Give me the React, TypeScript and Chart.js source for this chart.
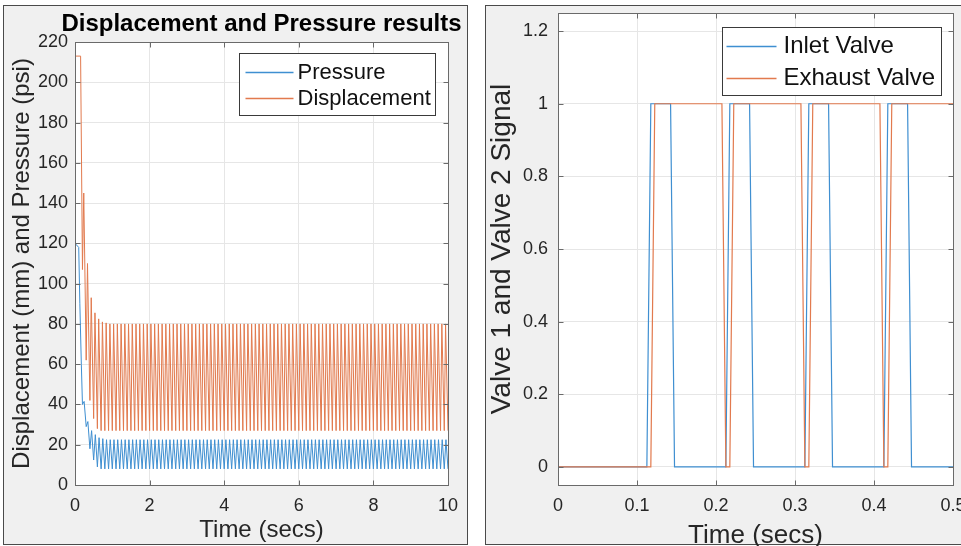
import React, { useEffect, useRef } from 'react';
import { Chart, registerables } from 'chart.js';

Chart.register(...registerables);

const FONT = "'Liberation Sans', Arial, Helvetica, sans-serif";

// ---------------- Left figure: Displacement and Pressure ----------------
const leftTitle = 'Displacement and Pressure results';
const leftYLabel = 'Displacement (mm) and Pressure (psi)';
const leftXLabel = 'Time (secs)';

// start of each oscillation cycle (s)
const cycleTimes = [
  0.2, 0.3, 0.4, 0.5, 0.6, 0.7, 0.8, 0.9, 1.0, 1.1,
  1.2, 1.3, 1.4, 1.5, 1.6, 1.7, 1.8, 1.9, 2.0, 2.1,
  2.2, 2.3, 2.4, 2.5, 2.6, 2.7, 2.8, 2.9, 3.0, 3.1,
  3.2, 3.3, 3.4, 3.5, 3.6, 3.7, 3.8, 3.9, 4.0, 4.1,
  4.2, 4.3, 4.4, 4.5, 4.6, 4.7, 4.8, 4.9, 5.0, 5.1,
  5.2, 5.3, 5.4, 5.5, 5.6, 5.7, 5.8, 5.9, 6.0, 6.1,
  6.2, 6.3, 6.4, 6.5, 6.6, 6.7, 6.8, 6.9, 7.0, 7.1,
  7.2, 7.3, 7.4, 7.5, 7.6, 7.7, 7.8, 7.9, 8.0, 8.1,
  8.2, 8.3, 8.4, 8.5, 8.6, 8.7, 8.8, 8.9, 9.0, 9.1,
  9.2, 9.3, 9.4, 9.5, 9.6, 9.7, 9.8, 9.9, 10.0,
];

// Displacement (mm)
const dispStartTimes = [0, 0.15];
const dispStartValues = [213, 213];
const dispLows = [
  107, 62, 42, 33, 28, 27, 27, 27, 27, 27,
  27, 27, 27, 27, 27, 27, 27, 27, 27, 27,
  27, 27, 27, 27, 27, 27, 27, 27, 27, 27,
  27, 27, 27, 27, 27, 27, 27, 27, 27, 27,
  27, 27, 27, 27, 27, 27, 27, 27, 27, 27,
  27, 27, 27, 27, 27, 27, 27, 27, 27, 27,
  27, 27, 27, 27, 27, 27, 27, 27, 27, 27,
  27, 27, 27, 27, 27, 27, 27, 27, 27, 27,
  27, 27, 27, 27, 27, 27, 27, 27, 27, 27,
  27, 27, 27, 27, 27, 27, 27, 27, 27,
];
const dispHighs = [
  145, 110, 93, 85.5, 82.5, 81, 80.5, 80, 80, 80,
  80, 80, 80, 80, 80, 80, 80, 80, 80, 80,
  80, 80, 80, 80, 80, 80, 80, 80, 80, 80,
  80, 80, 80, 80, 80, 80, 80, 80, 80, 80,
  80, 80, 80, 80, 80, 80, 80, 80, 80, 80,
  80, 80, 80, 80, 80, 80, 80, 80, 80, 80,
  80, 80, 80, 80, 80, 80, 80, 80, 80, 80,
  80, 80, 80, 80, 80, 80, 80, 80, 80, 80,
  80, 80, 80, 80, 80, 80, 80, 80, 80, 80,
  80, 80, 80, 80, 80, 80, 80, 80, 80,
];
const dispPeakDelay = 0.035;

// Pressure (psi)
const pressStartTimes = [0, 0.1, 0.13, 0.17];
const pressStartValues = [120, 118, 90, 60];
const pressLows = [
  40, 29, 18, 12.4, 9, 8, 8, 8, 8, 8,
  8, 8, 8, 8, 8, 8, 8, 8, 8, 8,
  8, 8, 8, 8, 8, 8, 8, 8, 8, 8,
  8, 8, 8, 8, 8, 8, 8, 8, 8, 8,
  8, 8, 8, 8, 8, 8, 8, 8, 8, 8,
  8, 8, 8, 8, 8, 8, 8, 8, 8, 8,
  8, 8, 8, 8, 8, 8, 8, 8, 8, 8,
  8, 8, 8, 8, 8, 8, 8, 8, 8, 8,
  8, 8, 8, 8, 8, 8, 8, 8, 8, 8,
  8, 8, 8, 8, 8, 8, 8, 8, 8,
];
const pressHighs = [
  41.5, 31.5, 27, 25, 23.5, 23, 22.5, 22.5, 22.5, 22.5,
  22.5, 22.5, 22.5, 22.5, 22.5, 22.5, 22.5, 22.5, 22.5, 22.5,
  22.5, 22.5, 22.5, 22.5, 22.5, 22.5, 22.5, 22.5, 22.5, 22.5,
  22.5, 22.5, 22.5, 22.5, 22.5, 22.5, 22.5, 22.5, 22.5, 22.5,
  22.5, 22.5, 22.5, 22.5, 22.5, 22.5, 22.5, 22.5, 22.5, 22.5,
  22.5, 22.5, 22.5, 22.5, 22.5, 22.5, 22.5, 22.5, 22.5, 22.5,
  22.5, 22.5, 22.5, 22.5, 22.5, 22.5, 22.5, 22.5, 22.5, 22.5,
  22.5, 22.5, 22.5, 22.5, 22.5, 22.5, 22.5, 22.5, 22.5, 22.5,
  22.5, 22.5, 22.5, 22.5, 22.5, 22.5, 22.5, 22.5, 22.5, 22.5,
  22.5, 22.5, 22.5, 22.5, 22.5, 22.5, 22.5, 22.5, 22.5,
];
const pressPeakDelay = 0.045;

// ---------------- Right figure: valve signals ----------------
const rightYLabel = 'Valve 1 and Valve 2 Signal';
const rightXLabel = 'Time (secs)';

const inletTimes = [0, 0.1125, 0.1175, 0.1425, 0.1475, 0.2125, 0.2175, 0.2425, 0.2475, 0.3125, 0.3175, 0.3425, 0.3475, 0.4125, 0.4175, 0.4425, 0.4475, 0.5];
const inletValues = [0, 0, 1, 1, 0, 0, 1, 1, 0, 0, 1, 1, 0, 0, 1, 1, 0, 0];
const exhaustTimes = [0, 0.1175, 0.1225, 0.2075, 0.2125, 0.2175, 0.2225, 0.3075, 0.3125, 0.3175, 0.3225, 0.4075, 0.4125, 0.4175, 0.4225, 0.5];
const exhaustValues = [0, 0, 1, 1, 0, 0, 1, 1, 0, 0, 1, 1, 0, 0, 1, 1];

const BLUE = '#3f8fd1';
const ORANGE = '#e27a4e';

function zipPoints(ts: number[], vs: number[]) {
  return ts.map((t, i) => ({ x: t, y: vs[i] }));
}

function buildOscillation(startT: number[], startV: number[], lows: number[], highs: number[], delay: number) {
  const pts = zipPoints(startT, startV);
  cycleTimes.forEach((t, i) => {
    if (lows[i] !== undefined) pts.push({ x: t, y: lows[i] });
    if (highs[i] !== undefined) pts.push({ x: +(t + delay).toFixed(4), y: highs[i] });
  });
  return pts;
}

// MATLAB-like tick text: no trailing zeros ("1" not "1.0")
const plainNumber = (v: any) => String(+(+v).toFixed(4));

// ---------------- plugins ----------------
const AXIS_COLOR = '#6a6a6a';

const plotBgPlugin = {
  id: 'plotBg',
  beforeDraw(chart: any) {
    const { ctx, chartArea: a } = chart;
    ctx.save();
    ctx.fillStyle = '#ffffff';
    ctx.fillRect(a.left, a.top, a.right - a.left, a.bottom - a.top);
    ctx.restore();
  },
};

// axes title centred over the plot area (MATLAB style)
function makeAxesTitlePlugin(text: string, size: number, centerY: number) {
  return {
    id: 'axesTitle',
    afterDraw(chart: any) {
      const { ctx, chartArea: a } = chart;
      ctx.save();
      ctx.font = `bold ${size}px ${FONT}`;
      ctx.fillStyle = '#000000';
      ctx.textAlign = 'center';
      ctx.textBaseline = 'middle';
      ctx.fillText(text, (a.left + a.right) / 2, centerY);
      ctx.restore();
    },
  };
}

const boxPlugin = {
  id: 'matlabBox',
  afterDatasetsDraw(chart: any) {
    const { ctx, chartArea: a, scales } = chart;
    const L = Math.round(a.left) + 0.5;
    const R = Math.round(a.right) + 0.5;
    const T = Math.round(a.top) + 0.5;
    const B = Math.round(a.bottom) + 0.5;
    ctx.save();
    ctx.strokeStyle = AXIS_COLOR;
    ctx.lineWidth = 1;
    ctx.beginPath();
    const tl = 5;
    scales.x.ticks.forEach((t: any) => {
      const px = Math.round(scales.x.getPixelForValue(t.value)) + 0.5;
      ctx.moveTo(px, B); ctx.lineTo(px, B - tl);
      ctx.moveTo(px, T); ctx.lineTo(px, T + tl);
    });
    scales.y.ticks.forEach((t: any) => {
      const py = Math.round(scales.y.getPixelForValue(t.value)) + 0.5;
      ctx.moveTo(L, py); ctx.lineTo(L + tl, py);
      ctx.moveTo(R, py); ctx.lineTo(R - tl, py);
    });
    ctx.stroke();
    ctx.strokeRect(L, T, R - L, B - T);
    ctx.restore();
  },
};

function makeLegendPlugin(cfg: any) {
  return {
    id: 'matlabLegend',
    afterDraw(chart: any) {
      const { ctx, chartArea: a } = chart;
      const items = chart.data.datasets;
      ctx.save();
      ctx.font = `${cfg.fontSize}px ${FONT}`;
      const textW = Math.max(...items.map((d: any) => ctx.measureText(d.label).width));
      const w = Math.round(cfg.padLeft + cfg.lineLen + cfg.gap + textW + cfg.padRight);
      const h = Math.round(cfg.rowH * items.length + cfg.padV * 2);
      const x = Math.round(a.right - cfg.offRight - w) + 0.5;
      const y = Math.round(a.top + cfg.offTop) + 0.5;
      ctx.fillStyle = '#ffffff';
      ctx.fillRect(x, y, w, h);
      ctx.strokeStyle = '#3a3a3a';
      ctx.lineWidth = 1;
      ctx.strokeRect(x, y, w, h);
      items.forEach((d: any, i: number) => {
        const cy = y + cfg.padV + cfg.rowH * (i + 0.5);
        ctx.strokeStyle = d.borderColor;
        ctx.lineWidth = 1.3;
        ctx.beginPath();
        ctx.moveTo(x + cfg.padLeft, Math.round(cy) + 0.5);
        ctx.lineTo(x + cfg.padLeft + cfg.lineLen, Math.round(cy) + 0.5);
        ctx.stroke();
        ctx.fillStyle = '#111111';
        ctx.textAlign = 'left';
        ctx.textBaseline = 'middle';
        ctx.fillText(d.label, x + cfg.padLeft + cfg.lineLen + cfg.gap, cy + 1);
      });
      ctx.restore();
    },
  };
}

function fixedAxis(size: number, horizontal: boolean) {
  return (scale: any) => {
    if (horizontal) scale.height = size; else scale.width = size;
    scale.paddingLeft = 0;
    scale.paddingRight = 0;
    scale.paddingTop = 0;
    scale.paddingBottom = 0;
  };
}

function useChart(ref: React.RefObject<HTMLCanvasElement | null>, makeConfig: () => any) {
  useEffect(() => {
    if (!ref.current) return;
    const chart = new Chart(ref.current, makeConfig());
    return () => chart.destroy();
  }, []);
}

const tickFont = { family: FONT, size: 18 };

function LeftChart() {
  const ref = useRef<HTMLCanvasElement>(null);
  useChart(ref, () => ({
    type: 'line',
    data: {
      datasets: [
        {
          label: 'Pressure',
          data: buildOscillation(pressStartTimes, pressStartValues, pressLows, pressHighs, pressPeakDelay),
          borderColor: BLUE,
          borderWidth: 1,
          pointRadius: 0,
          tension: 0,
          order: 1,
        },
        {
          label: 'Displacement',
          data: buildOscillation(dispStartTimes, dispStartValues, dispLows, dispHighs, dispPeakDelay),
          borderColor: ORANGE,
          borderWidth: 1,
          pointRadius: 0,
          tension: 0,
          order: 0,
        },
      ],
    },
    options: {
      responsive: false,
      animation: false,
      devicePixelRatio: 1,
      layout: { padding: { left: 0, top: 37, right: 19, bottom: 0 } },
      plugins: {
        legend: { display: false },
        tooltip: { enabled: false },
        title: { display: false },
      },
      scales: {
        x: {
          type: 'linear',
          min: 0,
          max: 10,
          ticks: { stepSize: 2, color: '#262626', font: tickFont, padding: 10, autoSkip: false, maxRotation: 0, callback: plainNumber },
          grid: { color: '#e6e6e6', drawTicks: false },
          border: { display: false },
          title: { display: true, text: leftXLabel, color: '#262626', font: { family: FONT, size: 24 }, padding: { top: 0, bottom: 0 } },
          afterFit: fixedAxis(60, true),
        },
        y: {
          type: 'linear',
          min: 0,
          max: 220,
          ticks: { stepSize: 20, color: '#262626', font: tickFont, padding: 7, autoSkip: false, callback: plainNumber },
          grid: { color: '#e6e6e6', drawTicks: false },
          border: { display: false },
          title: { display: true, text: leftYLabel, color: '#262626', font: { family: FONT, size: 24 }, padding: { top: 5, bottom: 0 } },
          afterFit: fixedAxis(72, false),
        },
      },
    },
    plugins: [
      plotBgPlugin,
      boxPlugin,
      makeAxesTitlePlugin(leftTitle, 24, 19.5),
      makeLegendPlugin({ fontSize: 22, rowH: 26, padV: 5, padLeft: 6, lineLen: 48, gap: 4, padRight: 5, offRight: 13, offTop: 11 }),
    ],
  }));
  return (
    <canvas
      ref={ref}
      width={464}
      height={540}
      style={{ position: 'absolute', left: 3, top: 5, width: 464, height: 540 }}
    />
  );
}

function RightChart() {
  const ref = useRef<HTMLCanvasElement>(null);
  useChart(ref, () => ({
    type: 'line',
    data: {
      datasets: [
        {
          label: 'Inlet Valve',
          data: zipPoints(inletTimes, inletValues),
          borderColor: BLUE,
          borderWidth: 1.2,
          pointRadius: 0,
          tension: 0,
          order: 1,
        },
        {
          label: 'Exhaust Valve',
          data: zipPoints(exhaustTimes, exhaustValues),
          borderColor: ORANGE,
          borderWidth: 1.2,
          pointRadius: 0,
          tension: 0,
          order: 0,
        },
      ],
    },
    options: {
      responsive: false,
      animation: false,
      devicePixelRatio: 1,
      layout: { padding: { left: 0, top: 8, right: 47, bottom: 0 } },
      plugins: {
        legend: { display: false },
        tooltip: { enabled: false },
        title: { display: false },
      },
      scales: {
        x: {
          type: 'linear',
          min: 0,
          max: 0.5,
          ticks: { stepSize: 0.1, color: '#262626', font: tickFont, padding: 10, autoSkip: false, maxRotation: 0, callback: plainNumber },
          grid: { color: '#e6e6e6', drawTicks: false },
          border: { display: false },
          title: { display: true, text: rightXLabel, color: '#262626', font: { family: FONT, size: 26 }, padding: { top: 0, bottom: 9 } },
          afterFit: fixedAxis(75, true),
        },
        y: {
          type: 'linear',
          min: -0.05,
          max: 1.25,
          ticks: { stepSize: 0.2, includeBounds: false, color: '#262626', font: tickFont, padding: 10, autoSkip: false, callback: plainNumber },
          grid: { color: '#e6e6e6', drawTicks: false },
          border: { display: false },
          title: { display: true, text: rightYLabel, color: '#262626', font: { family: FONT, size: 28 }, padding: { top: 0, bottom: 0 } },
          afterFit: fixedAxis(73, false),
        },
      },
    },
    plugins: [plotBgPlugin, boxPlugin, makeLegendPlugin({ fontSize: 24, rowH: 32, padV: 2, padLeft: 4, lineLen: 50, gap: 7, padRight: 6, offRight: 12, offTop: 14 })],
  }));
  return (
    <canvas
      ref={ref}
      width={515}
      height={555}
      style={{ position: 'absolute', left: 485, top: 5, width: 515, height: 555 }}
    />
  );
}

export default function App() {
  return (
    <div
      style={{
        position: 'fixed',
        left: 0,
        top: 0,
        width: 961,
        height: 546,
        overflow: 'hidden',
        background: '#ffffff',
      }}
    >
      <div
        style={{
          position: 'absolute',
          left: 3,
          top: 5,
          width: 465,
          height: 540,
          boxSizing: 'border-box',
          border: '1px solid #4a4a4a',
          background: '#f0f0f0',
        }}
      />
      <LeftChart />
      <div
        style={{
          position: 'absolute',
          left: 485,
          top: 5,
          width: 520,
          height: 540,
          boxSizing: 'border-box',
          border: '1px solid #4a4a4a',
          background: '#f0f0f0',
        }}
      />
      <RightChart />
    </div>
  );
}
